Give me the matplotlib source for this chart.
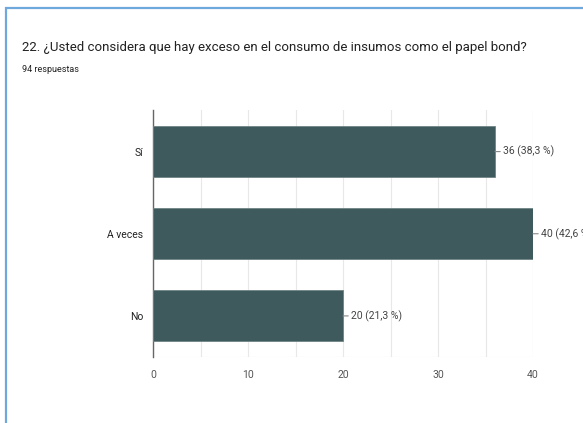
import matplotlib
matplotlib.use("Agg")
import matplotlib.pyplot as plt
from matplotlib.patches import Rectangle

categories = ["Sí", "A veces", "No"]
counts = [36, 40, 20]
percents = ["38,3 %", "42,6 %", "21,3 %"]
xticks = [0, 10, 20, 30, 40]

plt.rcParams['font.family'] = ['Roboto', 'DejaVu Sans']

bar_color = "#3f5a5c"
text_gray = "#444444"

fig = plt.figure(figsize=(5.83, 4.23), dpi=100)
fig.patch.set_facecolor("white")

# blue card border (top and left)
fig.add_artist(Rectangle((6/583, -0.1), 1.2, 0.1 + 1 - 8/423, transform=fig.transFigure,
                         fill=False, edgecolor="#6fa8dc", linewidth=1.6))

fig.text(22/583, 1 - 48/423, "22. ¿Usted considera que hay exceso en el consumo de insumos como el papel bond?",
         fontsize=9.5, color="#222222", va="center", ha="left")
fig.text(22/583, 1 - 70/423, "94 respuestas", fontsize=6.5, color="#222222", va="center", ha="left")

ax = fig.add_axes([153/583, 1 - 357/423, 380/583, 246.5/423])
y = range(len(categories))
ax.barh(y, counts, height=0.62, color=bar_color, edgecolor="#6f8485", linewidth=0.6, zorder=3)
ax.set_ylim(len(categories) - 0.5, -0.5)
ax.set_xlim(0, 40)

for i, (c, p) in enumerate(zip(counts, percents)):
    ax.annotate(f"{c} ({p})", xy=(c, i), xytext=(8, 0), textcoords="offset pixels",
                va="center", ha="left", fontsize=7.5, color=text_gray, annotation_clip=False,
                arrowprops=dict(arrowstyle="-", color="#888888", lw=0.8, shrinkA=0, shrinkB=0))

ax.set_xticks(xticks)
ax.set_xticks(range(0, 41, 5), minor=True)
ax.grid(axis="x", which="both", color="#e8e8e8", linewidth=0.8, zorder=0)
ax.set_yticks(list(y))
ax.set_yticklabels(categories, fontsize=7.5, color="#222222")
ax.tick_params(axis="y", length=0, pad=7)
ax.tick_params(axis="x", which="both", length=0, pad=9, labelsize=7.5, labelcolor="#555555")
for s in ["top", "right", "bottom"]:
    ax.spines[s].set_visible(False)
ax.spines["left"].set_color("#666666")
ax.spines["left"].set_linewidth(1)
ax.axhline(len(categories) - 0.5, color="#e0e0e0", linewidth=0.8, zorder=1)

fig.savefig("out.png", dpi=100)
